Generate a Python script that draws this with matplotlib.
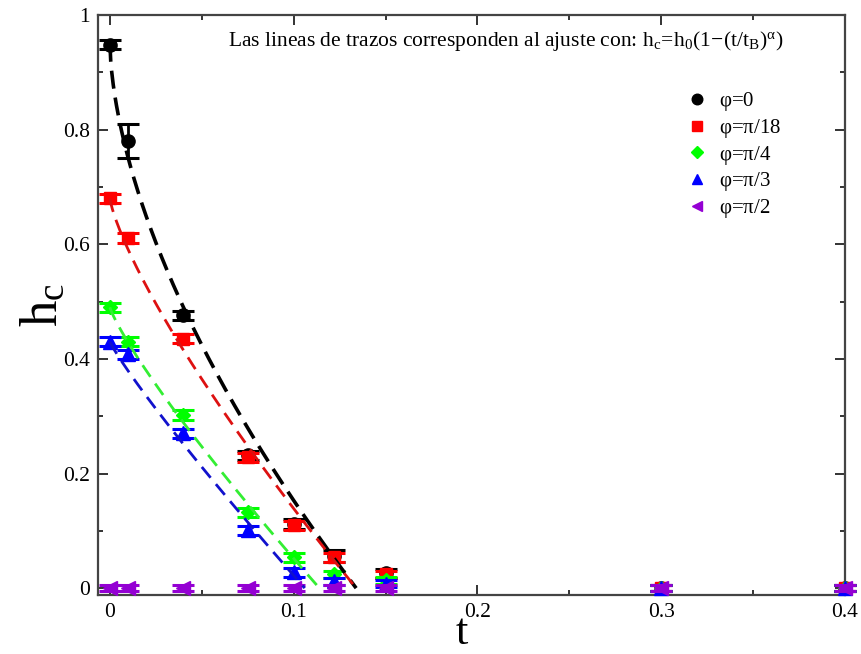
import numpy as np
import matplotlib
matplotlib.use("Agg")
import matplotlib.pyplot as plt
from matplotlib.lines import Line2D
from matplotlib.ticker import MultipleLocator, FuncFormatter

plt.rcParams['font.family'] = ['Liberation Serif', 'DejaVu Serif']
plt.rcParams['mathtext.fontset'] = 'stix'

# measured critical field vs temperature for several angles
t = [0.0, 0.01, 0.04, 0.075, 0.1, 0.122, 0.15, 0.3, 0.4]

h_phi0 = [0.948, 0.78, 0.476, 0.232, 0.112, 0.056, 0.026, 0.0, 0.0]
e_phi0 = [0.008, 0.03, 0.008, 0.008, 0.008, 0.01, 0.008, 0.005, 0.005]

h_phi18 = [0.68, 0.611, 0.435, 0.228, 0.11, 0.054, 0.024, 0.0, 0.0]
e_phi18 = [0.008, 0.008, 0.008, 0.008, 0.008, 0.008, 0.006, 0.005, 0.005]

h_phi4 = [0.49, 0.43, 0.302, 0.132, 0.054, 0.024, 0.014, 0.0, 0.0]
e_phi4 = [0.008, 0.008, 0.008, 0.008, 0.008, 0.006, 0.006, 0.005, 0.005]

h_phi3 = [0.43, 0.408, 0.27, 0.101, 0.028, 0.012, 0.008, 0.0, 0.0]
e_phi3 = [0.008, 0.008, 0.008, 0.008, 0.008, 0.006, 0.006, 0.005, 0.005]

h_phi2 = [0.0, 0.0, 0.0, 0.0, 0.0, 0.0, 0.0, 0.0, 0.0]
e_phi2 = [0.005, 0.005, 0.005, 0.005, 0.005, 0.005, 0.005, 0.005, 0.005]

labels = [r'$\mathregular{\varphi}$=0', r'$\mathregular{\varphi}$=$\mathregular{\pi}$/18',
          r'$\mathregular{\varphi}$=$\mathregular{\pi}$/4', r'$\mathregular{\varphi}$=$\mathregular{\pi}$/3',
          r'$\mathregular{\varphi}$=$\mathregular{\pi}$/2']

# fit parameters h0, tB, alpha of h_c = h0 (1 - (t/tB)^alpha)
fit_h0 = [0.95, 0.68, 0.49, 0.43]
fit_tB = [0.134, 0.134, 0.114, 0.106]
fit_alpha = [0.6, 0.78, 0.85, 0.9]

colors = ['black', '#ff0000', '#00ff00', '#0000ff', '#9400d3']
line_colors = ['black', '#dd1111', '#33ee33', '#1111cc']
markers = ['o', 's', 'D', '^', '<']
msizes = [9.5, 8.5, 7.5, 9.5, 9.5]

fig = plt.figure(figsize=(8.61, 6.54), dpi=100)
ax = fig.add_axes([0.1138, 0.0902, 0.8676, 0.8868])

series = [(h_phi0, e_phi0), (h_phi18, e_phi18), (h_phi4, e_phi4),
          (h_phi3, e_phi3), (h_phi2, e_phi2)]

for i, (h, e) in enumerate(series):
    ax.errorbar(t, h, yerr=e, fmt=markers[i], color=colors[i], ms=msizes[i],
                mec=colors[i], capsize=8, capthick=2.2, elinewidth=2,
                zorder=3 + i, clip_on=False)

# fitted curves
for i in range(4):
    tt = np.linspace(0, fit_tB[i], 300)
    hh = fit_h0[i] * (1 - (tt / fit_tB[i]) ** fit_alpha[i])
    lw = 2.6 if i == 0 else 2.0
    dash = (5, 2.5) if i == 0 else (5, 3)
    ax.plot(tt, hh, color=line_colors[i], lw=lw, dashes=dash, zorder=10 + i)

ax.set_xlim(-0.0065, 0.4)
ax.set_ylim(-0.012, 1.0)
ax.xaxis.set_major_locator(MultipleLocator(0.1))
ax.xaxis.set_minor_locator(MultipleLocator(0.05))
ax.yaxis.set_major_locator(MultipleLocator(0.2))
ax.yaxis.set_minor_locator(MultipleLocator(0.1))

fmt = FuncFormatter(lambda v, p: '0' if abs(v) < 1e-9 else ('1' if abs(v - 1) < 1e-9 else f'{v:g}'))
ax.xaxis.set_major_formatter(fmt)
ax.yaxis.set_major_formatter(fmt)

ax.tick_params(which='both', direction='in', top=True, right=True,
               colors='#333333', labelcolor='black', width=1.4)
ax.tick_params(which='major', length=7, labelsize=15.5, pad=6)
ax.tick_params(which='minor', length=3.5)
for s in ax.spines.values():
    s.set_linewidth(1.6)
    s.set_color('#444444')

ax.set_xlabel('t', fontsize=32, va='bottom')
ax.xaxis.set_label_coords(0.487, -0.1)
ax.set_ylabel(r'$\mathregular{h_c}$', fontsize=38, labelpad=-4)

ax.text((228 - 98) / 747, 0.955,
        r'Las lineas de trazos corresponden al ajuste con: $\mathregular{h_c\!=\!h_0(1\!-\!(t/t_B)^{\alpha})}$',
        transform=ax.transAxes, ha='left', va='center', fontsize=15.5)

handles = [Line2D([], [], ls='none', marker=markers[i], color=colors[i],
                  ms=msizes[i] * 0.8) for i in range(5)]
ax.legend(handles, labels, loc='upper left', bbox_to_anchor=(0.77, 0.885),
          frameon=False, fontsize=15, handletextpad=0.3, labelspacing=0.18,
          handlelength=1.5, borderaxespad=0)

fig.savefig('out.png', dpi=100)
